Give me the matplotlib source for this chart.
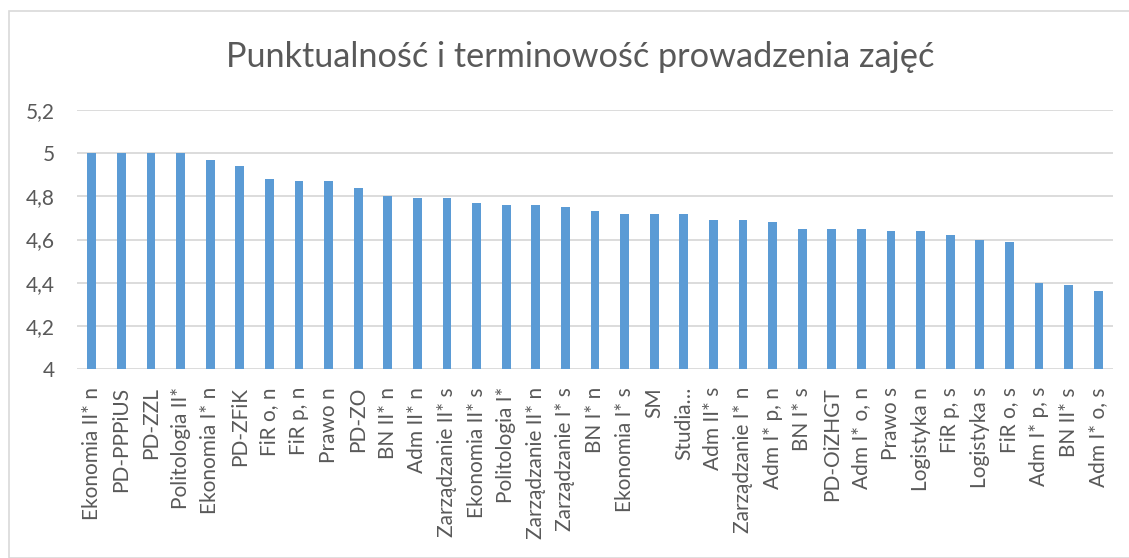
import matplotlib.pyplot as plt
from matplotlib.patches import Rectangle

# Data
kierunki = [
    "Ekonomia II* n", "PD-PPPiUS", "PD-ZZL", "Politologia II*", "Ekonomia I* n",
    "PD-ZFiK", "FiR o, n", "FiR p, n", "Prawo n", "PD-ZO",
    "BN II* n", "Adm II* n", "Zarządzanie II* s", "Ekonomia II* s", "Politologia I*",
    "Zarządzanie II* n", "Zarządzanie I* s", "BN I* n", "Ekonomia I* s", "SM",
    "Studia…", "Adm II* s", "Zarządzanie I* n", "Adm I* p, n", "BN I* s",
    "PD-OiZHGT", "Adm I* o, n", "Prawo s", "Logistyka n", "FiR p, s",
    "Logistyka s", "FiR o, s", "Adm I* p, s", "BN II* s", "Adm I* o, s",
]
oceny = [
    5.00, 5.00, 5.00, 5.00, 4.97,
    4.94, 4.88, 4.87, 4.87, 4.84,
    4.80, 4.79, 4.79, 4.77, 4.76,
    4.76, 4.75, 4.73, 4.72, 4.72,
    4.72, 4.69, 4.69, 4.68, 4.65,
    4.65, 4.65, 4.64, 4.64, 4.62,
    4.60, 4.59, 4.40, 4.39, 4.36,
]
y_ticks = [4.0, 4.2, 4.4, 4.6, 4.8, 5.0, 5.2]
y_labels = ["4", "4,2", "4,4", "4,6", "4,8", "5", "5,2"]

TXT = "#595959"
GRID = "#D9D9D9"
plt.rcParams['font.family'] = ['Lato', 'DejaVu Sans']

W, H = 1129, 558
fig = plt.figure(figsize=(W / 100, H / 100), dpi=100)

# chart border (runs off right and bottom edges)
fig.patches.append(Rectangle((9 / W, 0), 1.2, 1 - 11 / H, transform=fig.transFigure,
                             fill=False, edgecolor=GRID, linewidth=1.2))

ax = fig.add_axes([77 / W, (H - 369) / H, (1113 - 77) / W, (369 - 110) / H])

x = range(len(kierunki))
ax.bar(x, oceny, width=0.3, color="#5B9BD5", zorder=3)

ax.set_xlim(-0.5, len(kierunki) - 0.5)
ax.set_ylim(4, 5.2)
ax.set_yticks(y_ticks)
ax.set_yticklabels(y_labels)
ax.set_xticks(list(x))
ax.set_xticklabels(kierunki, rotation=90)
ax.tick_params(axis='both', length=0, labelsize=15, labelcolor=TXT)
ax.tick_params(axis='x', pad=13)
ax.tick_params(axis='y', pad=16)

ax.grid(axis='y', color=GRID, linewidth=1.3, zorder=0)
for s in ax.spines.values():
    s.set_visible(False)

fig.text(580 / W, 1 - 57 / H, "Punktualność i terminowość prowadzenia zajęć",
         ha='center', va='center', fontsize=24.7, color=TXT)

fig.savefig("out.png", dpi=100)
